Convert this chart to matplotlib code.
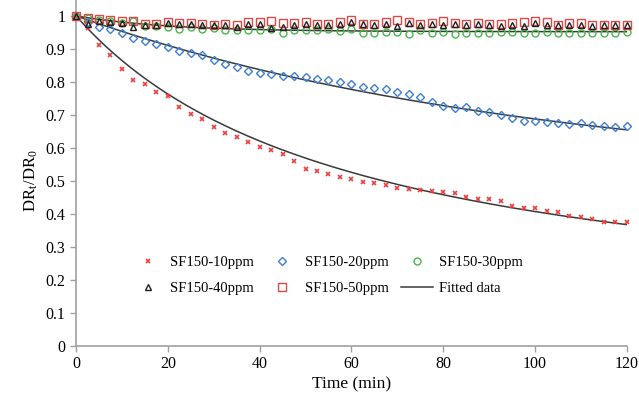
import numpy as np
import matplotlib
matplotlib.use('Agg')
import matplotlib.pyplot as plt
from matplotlib.lines import Line2D

# sampling times (min)
time_min = [0, 2.5, 5, 7.5, 10, 12.5, 15, 17.5, 20, 22.5, 25, 27.5, 30,
            32.5, 35, 37.5, 40, 42.5, 45, 47.5, 50, 52.5, 55, 57.5, 60,
            62.5, 65, 67.5, 70, 72.5, 75, 77.5, 80, 82.5, 85, 87.5, 90,
            92.5, 95, 97.5, 100, 102.5, 105, 107.5, 110, 112.5, 115, 117.5, 120]

dr_10ppm = [1.000, 0.963, 0.911, 0.882, 0.839, 0.806, 0.793, 0.770, 0.757, 0.723, 0.704, 0.688, 0.664,
            0.645, 0.634, 0.617, 0.602, 0.594, 0.581, 0.560, 0.536, 0.530, 0.520, 0.511, 0.505,
            0.496, 0.495, 0.488, 0.480, 0.475, 0.473, 0.468, 0.467, 0.463, 0.451, 0.446, 0.444,
            0.440, 0.424, 0.418, 0.417, 0.410, 0.407, 0.393, 0.391, 0.386, 0.377, 0.375, 0.375]

dr_20ppm = [1.000, 0.980, 0.965, 0.960, 0.948, 0.932, 0.923, 0.914, 0.905, 0.895, 0.888, 0.880, 0.865,
            0.854, 0.845, 0.833, 0.827, 0.823, 0.819, 0.818, 0.814, 0.809, 0.805, 0.801, 0.795,
            0.785, 0.781, 0.777, 0.768, 0.763, 0.754, 0.738, 0.728, 0.722, 0.724, 0.713, 0.710,
            0.700, 0.690, 0.683, 0.681, 0.678, 0.676, 0.672, 0.674, 0.670, 0.667, 0.664, 0.665]

dr_30ppm = [1.000, 0.993, 0.988, 0.983, 0.978, 0.985, 0.970, 0.970, 0.965, 0.961, 0.965, 0.961, 0.963,
            0.958, 0.958, 0.958, 0.958, 0.961, 0.948, 0.958, 0.958, 0.958, 0.961, 0.955, 0.959,
            0.949, 0.949, 0.952, 0.952, 0.946, 0.956, 0.949, 0.952, 0.946, 0.949, 0.949, 0.949,
            0.952, 0.952, 0.949, 0.949, 0.952, 0.949, 0.949, 0.949, 0.949, 0.949, 0.949, 0.950]

dr_40ppm = [1.000, 0.975, 0.985, 0.981, 0.978, 0.965, 0.973, 0.973, 0.978, 0.976, 0.976, 0.971, 0.971,
            0.971, 0.965, 0.976, 0.976, 0.963, 0.965, 0.973, 0.976, 0.973, 0.973, 0.976, 0.980,
            0.976, 0.973, 0.976, 0.968, 0.978, 0.973, 0.976, 0.973, 0.976, 0.973, 0.976, 0.973,
            0.968, 0.973, 0.970, 0.978, 0.973, 0.973, 0.973, 0.973, 0.968, 0.973, 0.973, 0.973]

dr_50ppm = [1.000, 0.995, 0.991, 0.988, 0.983, 0.985, 0.976, 0.975, 0.980, 0.978, 0.978, 0.975, 0.973,
            0.975, 0.971, 0.981, 0.981, 0.983, 0.978, 0.978, 0.981, 0.975, 0.975, 0.981, 0.986,
            0.976, 0.976, 0.980, 0.988, 0.980, 0.976, 0.978, 0.983, 0.978, 0.976, 0.978, 0.976,
            0.976, 0.978, 0.980, 0.983, 0.980, 0.973, 0.978, 0.978, 0.973, 0.973, 0.973, 0.973]

# fitted curve parameters
fit_10_inf, fit_10_w = 0.05, 0.0166      # hyperbolic decay
fit_20_inf, fit_20_tau = 0.506, 100.0    # exponential decay
fit_30_inf, fit_30_tau = 0.952, 20.0

x_ticks = [0, 20, 40, 60, 80, 100, 120]
y_ticks = [0, 0.1, 0.2, 0.3, 0.4, 0.5, 0.6, 0.7, 0.8, 0.9, 1]
y_tick_labels = ['0', '0.1', '0.2', '0.3', '0.4', '0.5', '0.6', '0.7', '0.8', '0.9', '1']

plt.rcParams['font.family'] = ['Liberation Serif', 'DejaVu Serif']
plt.rcParams['mathtext.fontset'] = 'stix'

fig = plt.figure(figsize=(6.39, 4.07), dpi=100)
ax = fig.add_axes([0.119, 0.150, 0.862, 0.811])

t = np.array(time_min)
tt = np.linspace(0, 120, 300)
fit_col = '#3a3a3a'
ax.plot(tt, fit_10_inf + (1 - fit_10_inf) / (1 + fit_10_w * tt), color=fit_col, lw=1.1, zorder=2)
ax.plot(tt, fit_20_inf + (1 - fit_20_inf) * np.exp(-tt / fit_20_tau), color=fit_col, lw=1.1, zorder=2)
ax.plot(tt, fit_30_inf + (1 - fit_30_inf) * np.exp(-tt / fit_30_tau), color=fit_col, lw=1.1, zorder=2)

h10, = ax.plot(t, dr_10ppm, ls='none', marker='x', ms=3.5, mew=1.2, color='#f03c3c', clip_on=False, zorder=3)
h20, = ax.plot(t, dr_20ppm, ls='none', marker='D', ms=4, mew=1.0, mfc='none', mec='#3d7fd6', clip_on=False, zorder=3)
h30, = ax.plot(t, dr_30ppm, ls='none', marker='o', ms=5, mew=1.0, mfc='none', mec='#48b848', clip_on=False, zorder=3)
h50, = ax.plot(t, dr_50ppm, ls='none', marker='s', ms=5.5, mew=1.0, mfc='none', mec='#e04848', clip_on=False, zorder=3)
h40, = ax.plot(t, dr_40ppm, ls='none', marker='^', ms=4, mew=1.0, mfc='none', mec='#202020', clip_on=False, zorder=4)
hfit = Line2D([], [], color=fit_col, lw=1.1)

ax.set_xlim(0, 120)
ax.set_ylim(0, 1)
ax.set_xticks(x_ticks)
ax.set_yticks(y_ticks)
ax.set_yticklabels(y_tick_labels)
ax.tick_params(axis='both', labelsize=11.5, color='#a0a0a0', length=4, width=1, direction='out')
for side in ['top', 'right']:
    ax.spines[side].set_visible(False)
for side in ['left', 'bottom']:
    ax.spines[side].set_color('#a0a0a0')
    ax.spines[side].set_linewidth(1.2)
ax.spines['left'].set_bounds(0, 1.048)  # axis line runs up to the top edge

ax.set_xlabel('Time (min)', fontsize=12.5, labelpad=3)
ax.set_ylabel(r'DR$_\mathregular{t}$/DR$_\mathregular{0}$', fontsize=12, labelpad=4)

# row-wise order needs column-wise handle list
handles = [h10, h40, h20, h50, h30, hfit]
labels = ['SF150-10ppm', 'SF150-40ppm', 'SF150-20ppm', 'SF150-50ppm', 'SF150-30ppm', 'Fitted data']
ax.legend(handles, labels, ncol=3, loc='center', bbox_to_anchor=(0.456, 0.214),
          frameon=False, fontsize=10.5, handlelength=2.26, handletextpad=0.4,
          columnspacing=0.82, labelspacing=0.88)

fig.savefig('out.png', dpi=100)
